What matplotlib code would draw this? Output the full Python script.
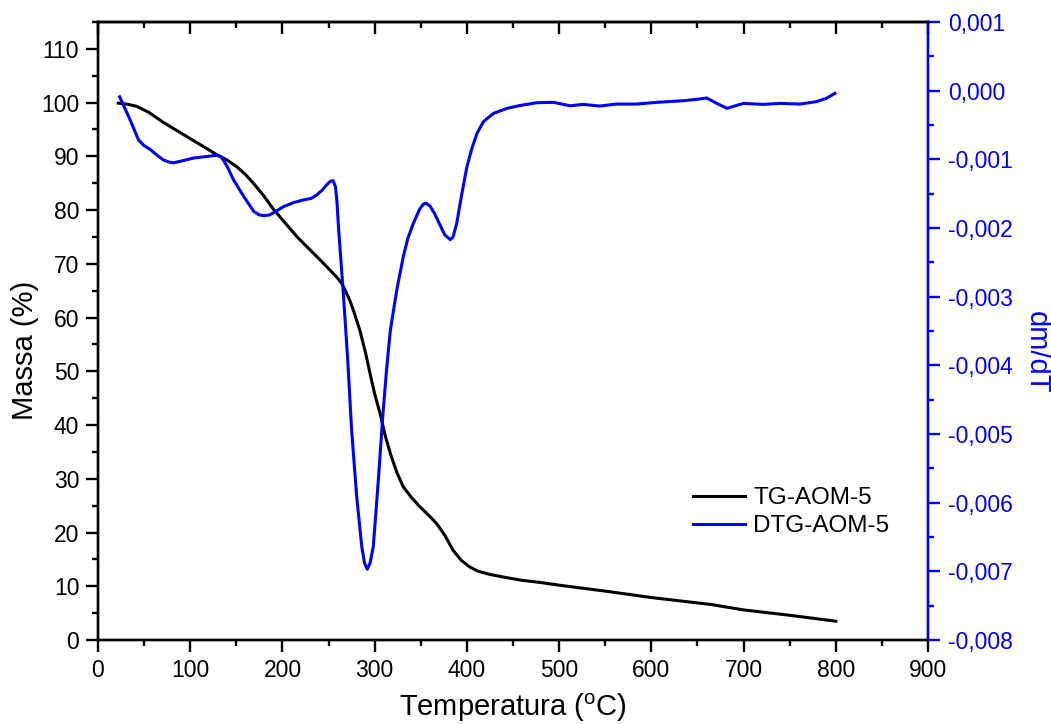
import matplotlib
matplotlib.use('Agg')
import matplotlib.pyplot as plt
from matplotlib.ticker import MultipleLocator, FuncFormatter

plt.rcParams['font.family'] = ['Liberation Sans', 'DejaVu Sans']
plt.rcParams['mathtext.fontset'] = 'custom'
plt.rcParams['mathtext.rm'] = 'Liberation Sans'

# TG curve (mass %)
tg_temp = [22, 32, 42, 55, 71, 100, 129, 140, 151, 160, 169, 180, 190, 216, 245, 259, 264, 268, 273, 277,
           284, 290, 295, 300, 306, 311, 317, 324, 331, 340, 349, 358, 367, 376, 385, 394, 403, 412, 425,
           440, 460, 480, 500, 550, 600, 650, 665, 700, 750, 800]
tg_mass = [99.9, 99.7, 99.3, 98.2, 96.3, 93.3, 90.3, 89.3, 88.0, 86.6, 84.9, 82.6, 80.2, 75.0, 70.0, 67.5,
           66.4, 65.1, 63.2, 61.3, 57.6, 53.5, 49.6, 45.8, 42.1, 38.3, 34.7, 31.2, 28.5, 26.5, 24.8, 23.3,
           21.7, 19.5, 16.7, 14.8, 13.6, 12.8, 12.2, 11.7, 11.1, 10.7, 10.2, 9.1, 7.9, 6.9, 6.6, 5.6, 4.6, 3.5]

# DTG curve (dm/dT)
dtg_temp = [23.5, 34, 44, 50, 57, 64, 71, 77, 82, 92, 104, 117, 129, 133, 136, 141, 147, 158, 164, 169,
            175, 180, 186, 190, 201, 212, 223, 231, 237, 243, 248, 252, 255, 257.5, 259, 261, 263, 265,
            268, 271, 275, 280.5, 286, 289, 292, 295, 298.5, 301, 304, 309, 313, 317, 324, 331, 336, 342,
            349, 353, 356, 360, 365, 371, 376, 382, 385, 389, 394, 400, 405, 411, 418, 429, 443, 456, 476,
            494, 512, 526, 544, 562, 584, 606, 635, 649, 660, 671, 682, 700, 721, 740, 761, 779, 790, 799]
dtg_val = [-0.00009, -0.00040, -0.00072, -0.00080, -0.00086, -0.00094, -0.00101, -0.00104, -0.00105,
           -0.00102, -0.00098, -0.00096, -0.00094, -0.00096, -0.00101, -0.00113, -0.00130, -0.00154,
           -0.00166, -0.00176, -0.00181, -0.00182, -0.00181, -0.00178, -0.00169, -0.00163, -0.00159,
           -0.00157, -0.00152, -0.00145, -0.00137, -0.00132, -0.00131, -0.00140, -0.00160, -0.00203,
           -0.00240, -0.00276, -0.00335, -0.00397, -0.00494, -0.00591, -0.00664, -0.00688, -0.00697,
           -0.00688, -0.00664, -0.00620, -0.00567, -0.00470, -0.00405, -0.00349, -0.00290, -0.00242,
           -0.00215, -0.00193, -0.00172, -0.00165, -0.00164, -0.00168, -0.00179, -0.00196, -0.00210,
           -0.00217, -0.00213, -0.00193, -0.00154, -0.00111, -0.00086, -0.00062, -0.00045, -0.00033,
           -0.00026, -0.00022, -0.000175, -0.00017, -0.00022, -0.00020, -0.000224, -0.000195, -0.000195,
           -0.00017, -0.000146, -0.000126, -0.000107, -0.000185, -0.000257, -0.000185, -0.00020,
           -0.000185, -0.000195, -0.00016, -0.00011, -0.00004]

BLUE = '#0000ff'

fig = plt.figure(figsize=(10.51, 7.24), dpi=100)
ax = fig.add_axes([98/1051, 84/724, 830/1051, 618/724])
ax2 = ax.twinx()

l1, = ax.plot(tg_temp, tg_mass, color='black', lw=2.2, label='TG-AOM-5')
l2, = ax2.plot(dtg_temp, dtg_val, color=BLUE, lw=2.2, label='DTG-AOM-5')

ax.set_xlim(0, 900)
ax.set_ylim(0, 115)
ax2.set_ylim(-0.008, 0.001)
ax.xaxis.set_major_locator(MultipleLocator(100))
ax.xaxis.set_minor_locator(MultipleLocator(50))
ax.yaxis.set_major_locator(MultipleLocator(10))
ax.yaxis.set_minor_locator(MultipleLocator(5))
ax2.yaxis.set_major_locator(MultipleLocator(0.001))
ax2.yaxis.set_minor_locator(MultipleLocator(0.0005))
ax2.yaxis.set_major_formatter(FuncFormatter(lambda v, p: f"{v:.3f}".replace('.', ',').replace('−', '-')))

for a in (ax, ax2):
    for s in a.spines.values():
        s.set_linewidth(1.7)
ax2.spines['right'].set_color(BLUE)

ax.tick_params(axis='both', which='major', direction='out', length=8.5, width=1.7, labelsize=16.5, pad=5)
ax.tick_params(axis='both', which='minor', direction='out', length=4.3, width=1.7)
ax2.tick_params(axis='y', which='major', direction='out', length=8.5, width=1.7, labelsize=16.5, pad=6,
                colors=BLUE)
ax2.tick_params(axis='y', which='minor', direction='out', length=4.3, width=1.7, colors=BLUE)

# inward ticks on the top edge
top = ax.secondary_xaxis('top')
top.xaxis.set_major_locator(MultipleLocator(100))
top.xaxis.set_minor_locator(MultipleLocator(50))
top.tick_params(which='major', direction='in', length=8.5, width=1.7, labeltop=False)
top.tick_params(which='minor', direction='in', length=4.3, width=1.7)
top.spines['top'].set_linewidth(1.7)

ax.set_xlabel(r'Temperatura ($\mathrm{^{o}}$C)', fontsize=21)
ax.xaxis.set_label_coords(0.5, -0.083)
ax.set_ylabel('Massa (%)', fontsize=21, va='center')
ax.yaxis.set_label_coords(-0.088, 0.469)
ax2.set_ylabel('dm/dT', fontsize=21, color=BLUE, rotation=-90, va='center', ha='center')
ax2.yaxis.set_label_coords(1.131, 0.466)

ax2.legend(handles=[l1, l2], loc='center left', bbox_to_anchor=(0.717, 0.207), frameon=False,
           fontsize=17.5, borderpad=0, borderaxespad=0, handlelength=2.14, handletextpad=0.33,
           labelspacing=0.25)

fig.savefig('out.png', dpi=100)
